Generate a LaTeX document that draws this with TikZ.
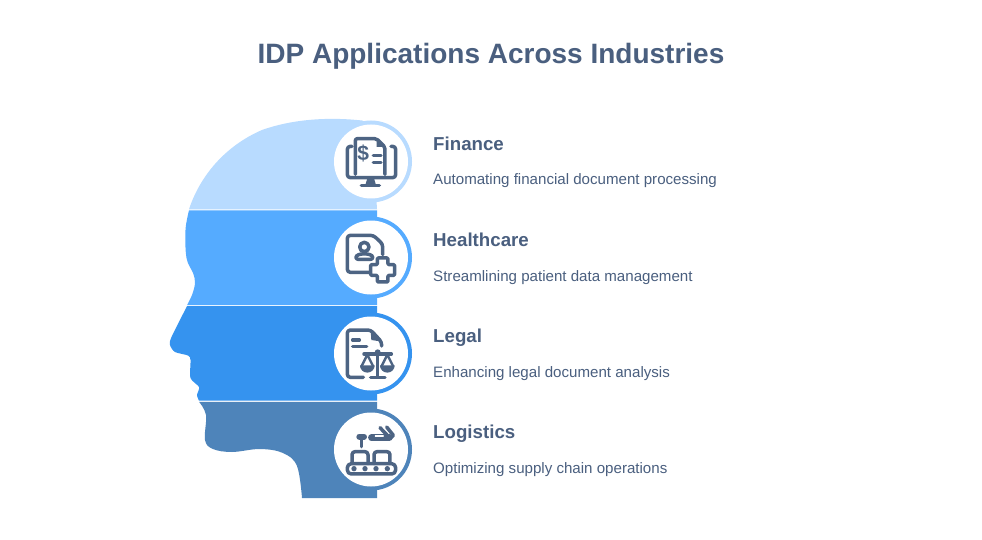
\documentclass[tikz,border=0pt]{standalone}
\usepackage{fontspec}
\setmainfont{Liberation Sans}
\definecolor{inkc}{HTML}{4D6483}
\definecolor{txtc}{HTML}{4A5F7F}
\definecolor{sega}{HTML}{B8DBFF}
\definecolor{segb}{HTML}{55ABFF}
\definecolor{segc}{HTML}{3593EF}
\definecolor{segd}{HTML}{4E84BA}
\tikzset{
  titlelabel/.style={anchor=base,text=txtc,inner sep=0pt,font=\bfseries\fontsize{28}{32}\selectfont},
  headlabel/.style={anchor=base west,text=txtc,inner sep=0pt,font=\bfseries\fontsize{18.7}{22}\selectfont},
  desclabel/.style={anchor=base west,text=txtc,inner sep=0pt,font=\fontsize{15.1}{18}\selectfont},
  iconbox/.style={shift={(#1)},x=0.3333pt,y=-0.3333pt},
  iconline/.style={draw=inkc,line width=3.5pt,line cap=round,line join=round},
  iconthin/.style={draw=inkc,line width=2.4pt,line cap=round,line join=round}
}
\begin{document}
\begin{tikzpicture}[x=1pt,y=-1pt]
\useasboundingbox (0,0) rectangle (982,540);
\fill[white] (0,0) rectangle (982,540);
\node[titlelabel] (title) at (491,64) {IDP Applications Across Industries};

% head bands
\fill[sega] (377,209.3) -- (189,209.3) .. controls (200,176) and (225,146) .. (262,130) .. controls (290,120) and (325,116.5) .. (362,120.5) -- (372,125) -- cycle;
\fill[segb] (377,210.4) -- (189,210.4) -- plot[smooth,tension=.6] coordinates {(189,210.4)(185.5,230)(186.5,258)(193,273)(195,283)(192,295)(187,305.2)} -- (377,305.2) -- cycle;
\fill[segc] (377,306.2) -- (187,306.2) -- plot[smooth,tension=.45] coordinates {(187,306.2)(171.5,337)(170,345)(175,352)(188,355.5)(190.5,360)(190.5,378)(199,387)(197,395)(199,400.7)} -- (377,400.7) -- cycle;
\fill[segd] (377,401.8) -- (199,401.8) -- plot[smooth,tension=.6] coordinates {(199,401.8)(206,415)(205,440)(213,449)(232,452)(260,449)(283,453)(297,466)(302,498)} -- (377,498) -- cycle;

% rings
\fill[sega] (371,161.5) circle[radius=41];
\fill[segb] (371,257.5) circle[radius=41];
\fill[segc] (371,353.5) circle[radius=41];
\fill[segd] (371,449.5) circle[radius=41];
\fill[white] (371,161.5) circle[radius=37];
\fill[white] (371,257.5) circle[radius=37];
\fill[white] (371,353.5) circle[radius=37];
\fill[white] (371,449.5) circle[radius=37];

% finance icon
\begin{scope}[iconbox={330,125}]
\draw[iconline,rounded corners=3pt] (66,64) -- (52,64) -- (52,158) -- (197,158) -- (197,64) -- (183,64);
\fill[inkc] (112,160) -- (132,160) -- (138,180) -- (106,180) -- cycle;
\draw[iconline] (94,182) -- (148,182);
\draw[iconline,rounded corners=2pt] (76,148) -- (76,41) -- (140,41) -- (165,66) -- (165,148);
\fill[inkc] (140,41) -- (165,66) -- (140,66) -- cycle;
\draw[iconline] (130,92) -- (153,92) (130,112) -- (153,112);
\node[inner sep=0pt,text=inkc,font=\bfseries\fontsize{21}{21}\selectfont] (dollar) at (100,86) {\$};
\end{scope}

% healthcare icon
\begin{scope}[iconbox={330,220}]
\draw[iconline,rounded corners=3pt] (118,157) -- (52,157) -- (52,46) -- (130,46) -- (158,72) -- (158,104);
\draw[iconline] (103,81) circle[radius=14];
\draw[iconline,rounded corners=2pt] (78,118) .. controls (78,98) and (128,98) .. (128,118) -- cycle;
\draw[iconline,rounded corners=1pt] (142,114) -- (174,114) -- (174,134) -- (194,134) -- (194,166) -- (174,166) -- (174,186) -- (142,186) -- (142,166) -- (122,166) -- (122,134) -- (142,134) -- cycle;
\end{scope}

% legal icon
\begin{scope}[iconbox={330,318}]
\draw[iconline,rounded corners=3pt] (100,178) -- (52,178) -- (52,36) -- (122,36) -- (155,72) -- (155,84);
\fill[inkc] (122,38) -- (150,70) -- (124,66) -- cycle;
\draw[iconline] (68,66) -- (88,66) (68,86) -- (110,86);
\draw[iconline] (143,108) -- (143,176) (122,178) -- (165,178) (102,108) -- (184,108);
\fill[inkc] (143,103) circle[radius=9];
\draw[iconthin] (112,110) -- (94,146) (112,110) -- (130,146) (172,110) -- (154,146) (172,110) -- (190,146);
\fill[inkc] (90,142) -- (134,142) arc[start angle=0,delta angle=180,radius=22] -- cycle;
\fill[inkc] (150,142) -- (194,142) arc[start angle=0,delta angle=180,radius=22] -- cycle;
\end{scope}

% logistics icon
\begin{scope}[iconbox={330,412}]
\draw[iconline,rounded corners=4pt] (52,155) rectangle (197,186);
\fill[inkc] (72,170) circle[radius=8] (105,170) circle[radius=8] (138,170) circle[radius=8] (172,170) circle[radius=8];
\draw[iconline,rounded corners=3pt] (66,155) -- (66,119) -- (114,119) -- (114,155);
\draw[iconline,rounded corners=3pt] (132,155) -- (132,119) -- (180,119) -- (180,155);
\draw[iconline,line width=6pt] (88,74) -- (102,74);
\draw[iconline] (95,78) -- (95,104);
\draw[iconline,line width=6.5pt] (124,77) -- (178,77);
\draw[white,line width=1.2pt,line cap=round] (136,72) -- (160,72);
\draw[iconline] (150,47) -- (172,70) (170,45) -- (190,70) -- (180,80);
\end{scope}

% labels
\node[headlabel] (ha) at (433,150.5) {Finance};
\node[desclabel] (da) at (433,185) {Automating financial document processing};
\node[headlabel] (hb) at (433,246.5) {Healthcare};
\node[desclabel] (db) at (433,281) {Streamlining patient data management};
\node[headlabel] (hc) at (433,342.5) {Legal};
\node[desclabel] (dc) at (433,377) {Enhancing legal document analysis};
\node[headlabel] (hd) at (433,438.5) {Logistics};
\node[desclabel] (dd) at (433,473) {Optimizing supply chain operations};
\end{tikzpicture}
\end{document}
